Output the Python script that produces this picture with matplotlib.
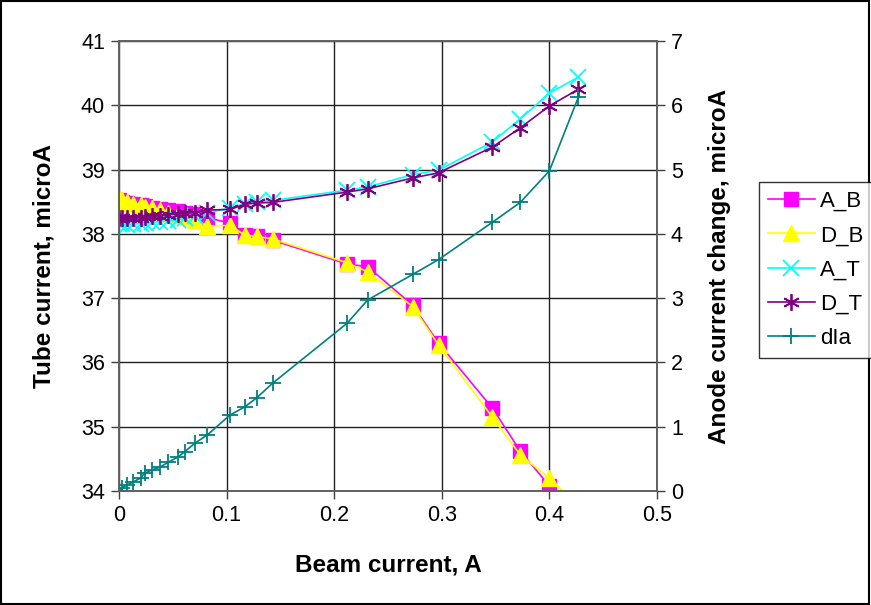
import matplotlib.pyplot as plt
from matplotlib.patches import Rectangle

plt.rcParams['font.family'] = ['Liberation Sans', 'DejaVu Sans']

# beam current, A
beam = [0.0, 0.003, 0.007, 0.013, 0.02, 0.024, 0.031, 0.038, 0.046, 0.055,
        0.061, 0.071, 0.082, 0.103, 0.117, 0.128, 0.143, 0.212, 0.231, 0.273,
        0.297, 0.347, 0.373, 0.4, 0.427]
a_b = [38.52, 38.50, 38.48, 38.47, 38.45, 38.43, 38.41, 38.39, 38.37, 38.35,
       38.33, 38.31, 38.25, 38.17, 37.99, 37.97, 37.90, 37.53, 37.49, 36.89,
       36.30, 35.29, 34.62, 34.08, 33.45]
d_b = [38.55, 38.52, 38.50, 38.47, 38.45, 38.42, 38.40, 38.37, 38.33, 38.30,
       38.27, 38.22, 38.12, 38.13, 37.98, 37.96, 37.92, 37.55, 37.41, 36.87,
       36.27, 35.15, 34.56, 34.20, 33.75]
a_t = [38.15, 38.15, 38.14, 38.15, 38.16, 38.17, 38.18, 38.19, 38.20, 38.22,
       38.24, 38.27, 38.33, 38.40, 38.47, 38.50, 38.52, 38.68, 38.73, 38.92,
       38.99, 39.43, 39.79, 40.19, 40.44]
d_t = [38.25, 38.25, 38.24, 38.24, 38.25, 38.26, 38.27, 38.28, 38.30, 38.31,
       38.32, 38.33, 38.37, 38.38, 38.46, 38.48, 38.49, 38.65, 38.70, 38.87,
       38.95, 39.35, 39.65, 39.99, 40.25]
dia = [0.0, 0.05, 0.09, 0.14, 0.20, 0.28, 0.33, 0.37, 0.45, 0.53,
       0.61, 0.75, 0.87, 1.18, 1.31, 1.45, 1.68, 2.61, 2.97, 3.37,
       3.60, 4.18, 4.49, 4.98, 6.13]

fig = plt.figure(figsize=(8.71, 6.05), dpi=100)
ax = fig.add_axes([119 / 871, 1 - 491 / 605, 538 / 871, 450 / 605])
ax2 = ax.twinx()

l1, = ax.plot(beam, a_b, color='#FF00FF', marker='s', ms=10, lw=1.2, label='A_B')
l2, = ax.plot(beam, d_b, color='#FFFF00', marker='^', ms=12, lw=1.2, label='D_B')
l3, = ax.plot(beam, a_t, color='#00FFFF', marker='x', ms=11, mew=1.3, lw=1.2, label='A_T')
l4, = ax.plot(beam, d_t, color='#800080', marker=(6, 2, 0), ms=12, mew=1.3, lw=1.2, label='D_T')
l5, = ax2.plot(beam, dia, color='#008080', marker='+', ms=12, mew=1.3, lw=1.2, label='dIa')

ax.set_xlim(0, 0.5)
ax.set_ylim(34, 41)
ax2.set_ylim(0, 7)
ax.set_xticks([0, 0.1, 0.2, 0.3, 0.4, 0.5])
ax.set_xticklabels(['0', '0.1', '0.2', '0.3', '0.4', '0.5'])
ax.set_yticks(range(34, 42))
ax2.set_yticks(range(0, 8))

ax.grid(True, color='#202020', lw=1)
ax.set_axisbelow(True)
for a in (ax, ax2):
    for s in a.spines.values():
        s.set_color('#606060')
        s.set_linewidth(1.2)
    a.tick_params(labelsize=15.5, length=6, width=1, color='#404040', pad=4)

ax.set_xlabel('Beam current, A', fontsize=17.5, fontweight='bold', labelpad=20)
ax.set_ylabel('Tube current, microA', fontsize=17.5, fontweight='bold', labelpad=18)
ax2.set_ylabel('Anode current change, microA', fontsize=17.5, fontweight='bold', labelpad=18)

leg = fig.legend(handles=[l1, l2, l3, l4, l5], loc='upper left',
                 bbox_to_anchor=(759 / 871, 1 - 182 / 605), fontsize=16,
                 frameon=True, fancybox=False, borderpad=0.4, labelspacing=0.6,
                 handlelength=2.1, handletextpad=0.25, borderaxespad=0)
leg.get_frame().set_edgecolor('black')
leg.get_frame().set_linewidth(1)

fig.patches.append(Rectangle((0.001, 0.001), 0.997, 0.997, transform=fig.transFigure,
                             fill=False, edgecolor='black', lw=1.5))

fig.savefig('out.png', dpi=100)
